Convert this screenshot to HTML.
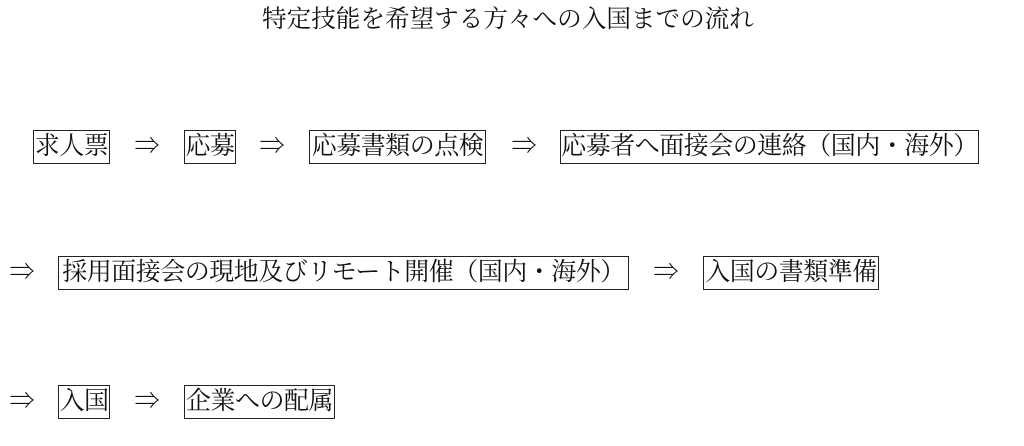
<!DOCTYPE html>
<html><head><meta charset="utf-8"><style>
body{margin:0;width:1024px;height:446px;background:#fff;position:relative;overflow:hidden;font-family:"Liberation Serif","Noto Serif CJK SC",serif;color:#111}
.t{position:absolute;top:5px;left:262px;width:490px;text-align:center;font-size:24.6px;line-height:30px;white-space:nowrap}
.b{position:absolute;height:34px;border:1px solid #222;box-sizing:border-box;font-size:25px;line-height:32px;text-align:center;white-space:nowrap;overflow:visible;letter-spacing:-0.5px}
.a{position:absolute;font-size:25px;line-height:32px;width:28px;text-align:center}
</style></head><body>
<div class="t">特定技能を希望する方々への入国までの流れ</div>
<div class="b" style="left:33px;top:130px;width:77px">求人票</div>
<div class="a" style="left:133px;top:131px">⇒</div>
<div class="b" style="left:184px;top:130px;width:52px">応募</div>
<div class="a" style="left:258px;top:131px">⇒</div>
<div class="b" style="left:309px;top:130px;width:177px">応募書類の点検</div>
<div class="a" style="left:510px;top:131px">⇒</div>
<div class="b" style="left:560px;top:130px;width:419px">応募者へ面接会の連絡（国内・海外）</div>
<div class="a" style="left:8px;top:257px">⇒</div>
<div class="b" style="left:58px;top:256px;width:571px">採用面接会の現地及びリモート開催（国内・海外）</div>
<div class="a" style="left:652px;top:257px">⇒</div>
<div class="b" style="left:703px;top:256px;width:176px">入国の書類準備</div>
<div class="a" style="left:8px;top:386px">⇒</div>
<div class="b" style="left:58px;top:385px;width:52px">入国</div>
<div class="a" style="left:133px;top:386px">⇒</div>
<div class="b" style="left:184px;top:385px;width:151px">企業への配属</div>
</body></html>
